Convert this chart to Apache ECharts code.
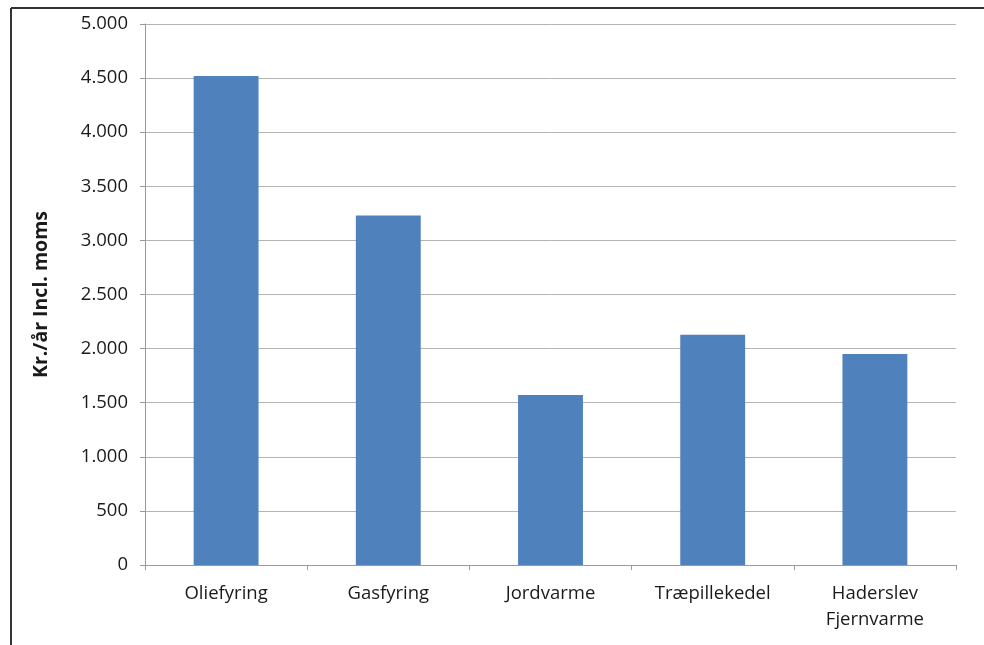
<!DOCTYPE html>
<html>
<head>
<meta charset="utf-8">
<script src="https://cdn.jsdelivr.net/npm/echarts@6/dist/echarts.min.js"></script>
<style>
  html, body { margin: 0; padding: 0; background: #fff; }
  #chart { width: 984px; height: 645px; }
</style>
</head>
<body>
<div id="chart"></div>
<script>
const categories = ['Oliefyring', 'Gasfyring', 'Jordvarme', 'Træpillekedel', 'Haderslev\nFjernvarme'];
const values = [4520, 3230, 1572, 2127, 1950];
const yTicks = { min: 0, max: 5000, interval: 500 };
const yName = 'Kr./år Incl. moms';

const myechart = echarts.init(document.getElementById('chart'));

// tusindtalsseparator som punktum
function fmt (v) {
  return String(v).replace(/\B(?=(\d{3})+(?!\d))/g, '.');
}

const font = '"Open Sans", "Liberation Sans", sans-serif';

let option = {
  animation: false,
  textStyle: { fontFamily: font },
  grid: { left: 145, right: 28, top: 24, bottom: 80 },
  graphic: [
    { type: 'line', shape: { x1: 11, y1: 8, x2: 984, y2: 8 }, style: { stroke: '#333', lineWidth: 2 } },
    { type: 'line', shape: { x1: 11, y1: 8, x2: 11, y2: 645 }, style: { stroke: '#333', lineWidth: 2 } }
  ],
  xAxis: {
    type: 'category',
    data: categories,
    axisLine: { lineStyle: { color: '#9a9a9a', width: 1 } },
    axisTick: { show: true, length: 5, lineStyle: { color: '#9a9a9a' } },
    axisLabel: { color: '#1a1a1a', fontSize: 18.5, margin: 16, lineHeight: 26, fontFamily: font }
  },
  yAxis: {
    type: 'value',
    min: yTicks.min,
    max: yTicks.max,
    interval: yTicks.interval,
    name: yName,
    nameLocation: 'middle',
    nameGap: 94,
    nameTextStyle: { fontSize: 19.5, fontWeight: 'bold', color: '#1a1a1a', fontFamily: font },
    axisLine: { show: true, lineStyle: { color: '#9a9a9a' } },
    axisTick: { show: true, length: 5, lineStyle: { color: '#9a9a9a' } },
    axisLabel: { color: '#1a1a1a', fontSize: 18.5, margin: 17, formatter: fmt, fontFamily: font },
    splitLine: { lineStyle: { color: '#b4b4b4', width: 1 } }
  },
  series: [
    {
      type: 'bar',
      data: values,
      barWidth: '40%',
      itemStyle: { color: '#4f81bd' }
    }
  ]
};
myechart.setOption(option);
</script>
</body>
</html>
